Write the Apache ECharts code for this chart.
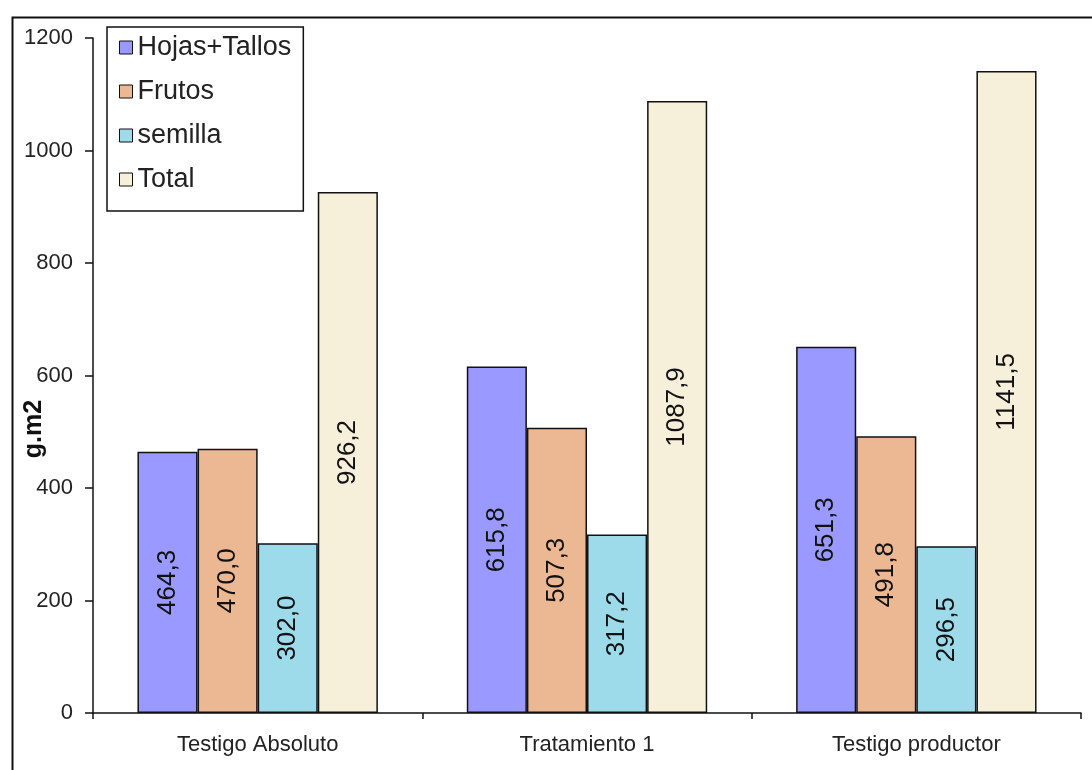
<!DOCTYPE html>
<html>
<head>
<meta charset="utf-8">
<script src="https://cdn.jsdelivr.net/npm/echarts@6/dist/echarts.min.js"></script>
<style>
  html, body { margin: 0; padding: 0; background: #fff; }
  #chart { width: 1092px; height: 770px; }
</style>
</head>
<body>
<div id="chart"></div>
<script>
// Biomass per treatment (g.m2)
const categories = ['Testigo Absoluto', 'Tratamiento 1', 'Testigo productor'];
const hojasTallos = [464.3, 615.8, 651.3];
const frutos = [470.0, 507.3, 491.8];
const semilla = [302.0, 317.2, 296.5];
const total = [926.2, 1087.9, 1141.5];
const yTicks = [0, 200, 400, 600, 800, 1000, 1200];

const FONT = 'Liberation Sans, Arial, sans-serif';

function commaLabel(p) {
  return p.value.toFixed(1).replace('.', ',');
}

function barSeries(name, data, color) {
  return {
    name: name,
    type: 'bar',
    data: data,
    barGap: '0%',
    barCategoryGap: '27%',
    itemStyle: { color: color, borderColor: '#111', borderWidth: 1.5 },
    label: {
      show: true,
      position: 'inside',
      rotate: 90,
      formatter: commaLabel,
      color: '#111',
      fontFamily: FONT,
      fontSize: 26
    }
  };
}

const chart = echarts.init(document.getElementById('chart'), null, { renderer: 'canvas' });

chart.setOption({
  animation: false,
  backgroundColor: '#fff',
  grid: { left: 93, right: 11, top: 38, bottom: 57, containLabel: false },
  legend: {
    orient: 'vertical',
    left: 107,
    top: 27,
    padding: [7, 12, 18, 12],
    backgroundColor: '#fff',
    borderColor: '#111',
    borderWidth: 1.5,
    itemWidth: 13,
    itemHeight: 13,
    itemGap: 17,
    icon: 'rect',
    textStyle: { fontFamily: FONT, fontSize: 27, color: '#222' },
    data: ['Hojas+Tallos', 'Frutos', 'semilla', 'Total'],
    itemStyle: { borderColor: '#111', borderWidth: 1 }
  },
  xAxis: {
    type: 'category',
    data: categories,
    axisLine: { lineStyle: { color: '#111', width: 1.5 } },
    axisTick: { show: true, length: 6, lineStyle: { color: '#111', width: 1.5 } },
    axisLabel: { fontFamily: FONT, fontSize: 22, color: '#222', margin: 21 },
    splitLine: { show: false }
  },
  yAxis: {
    type: 'value',
    min: 0,
    max: 1200,
    interval: 200,
    axisLine: { show: true, lineStyle: { color: '#111', width: 1.5 } },
    axisTick: { show: true, length: 8, lineStyle: { color: '#111', width: 1.5 } },
    axisLabel: {
      fontFamily: FONT, fontSize: 22, color: '#222', margin: 20,
      formatter: function (v) { return yTicks.indexOf(v) >= 0 ? String(v) : ''; }
    },
    splitLine: { show: false }
  },
  series: [
    barSeries('Hojas+Tallos', hojasTallos, '#9999FF'),
    barSeries('Frutos', frutos, '#ECB894'),
    barSeries('semilla', semilla, '#9DDAEA'),
    barSeries('Total', total, '#F6EFDA')
  ],
  graphic: [
    {
      type: 'rect',
      left: 10, top: 15,
      shape: { width: 1120, height: 800 },
      style: { fill: 'none', stroke: '#111', lineWidth: 2 },
      silent: true,
      z: -1
    },
    {
      type: 'text',
      x: 34, y: 429,
      rotation: Math.PI / 2,
      style: {
        text: 'g.m2',
        fontFamily: FONT,
        fontSize: 25,
        fontWeight: 'bold',
        fill: '#111',
        textAlign: 'center',
        textVerticalAlign: 'middle'
      }
    }
  ]
});
</script>
</body>
</html>
